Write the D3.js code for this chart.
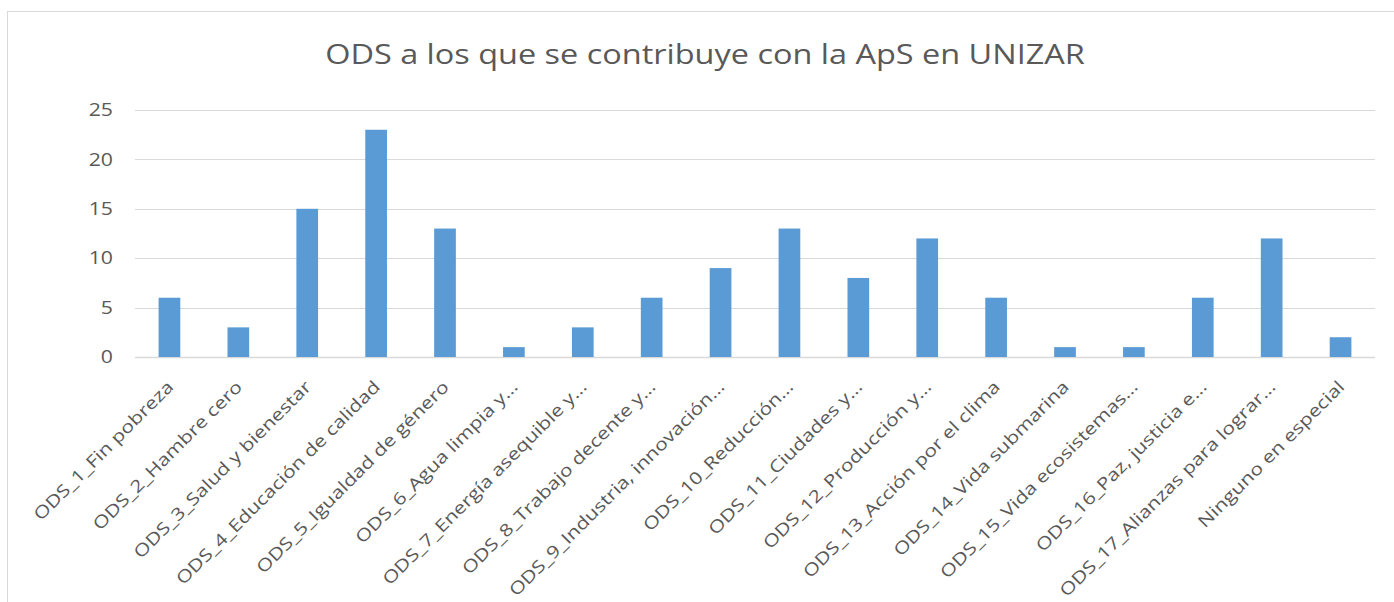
<!DOCTYPE html>
<html>
<head>
<meta charset="utf-8">
<title>ODS ApS UNIZAR</title>
<style>
  body { margin: 0; background: #fff; }
  svg { font-family: "Open Sans", sans-serif; }
  rect.bar-rect { fill: #5b9bd5; }
</style>
</head>
<body>
<div id="chart"></div>
<script src="https://d3js.org/d3.v7.min.js"></script>
<script>

// Data
var categories = [
  "ODS_1_Fin pobreza",
  "ODS_2_Hambre cero",
  "ODS_3_Salud y bienestar",
  "ODS_4_Educación de calidad",
  "ODS_5_Igualdad de género",
  "ODS_6_Agua limpia y…",
  "ODS_7_Energía asequible y…",
  "ODS_8_Trabajo decente y…",
  "ODS_9_Industria, innovación…",
  "ODS_10_Reducción…",
  "ODS_11_Ciudades y…",
  "ODS_12_Producción y…",
  "ODS_13_Acción por el clima",
  "ODS_14_Vida submarina",
  "ODS_15_Vida ecosistemas…",
  "ODS_16_Paz, justicia e…",
  "ODS_17_Alianzas para lograr…",
  "Ninguno en especial"
];
var counts = [6, 3, 15, 23, 13, 1, 3, 6, 9, 13, 8, 12, 6, 1, 1, 6, 12, 2];
var yTicks = [0, 5, 10, 15, 20, 25];
var chartTitle = "ODS a los que se contribuye con la ApS en UNIZAR";

var data = categories.map(function(c, i) { return {name: c, count: counts[i]}; });

const width = 1394;
const height = 602;
const margin = {top: 110, right: 19, bottom: 245, left: 135};
const graphWidth = width - margin.left - margin.right;
const graphHeight = height - margin.top - margin.bottom;

// the original font runs wider than Open Sans, stretch text a bit
function stretch(sel, widen) {
  sel.each(function() {
    var len = this.getComputedTextLength();
    d3.select(this)
      .attr('textLength', len * widen)
      .attr('lengthAdjust', 'spacingAndGlyphs');
  });
}

const svg = d3.select('#chart')
  .append('svg')
  .attr('width', width)
  .attr('height', height);

// chart border
svg.append('rect')
  .attr('x', 7.5)
  .attr('y', 11.5)
  .attr('width', width + 20)
  .attr('height', height + 20)
  .attr('fill', 'none')
  .attr('stroke', '#d9d9d9')
  .attr('stroke-width', 1);

svg.append('text')
  .attr('x', 705)
  .attr('y', 64)
  .attr('text-anchor', 'middle')
  .style('font-size', '27.5px')
  .style('fill', '#595959')
  .text(chartTitle)
  .call(stretch, 1.18);

const graph = svg.append('g')
  .attr('transform', `translate(${margin.left}, ${margin.top})`);

const y = d3.scaleLinear()
  .domain([0, 25])
  .range([graphHeight, 0]);

const x = d3.scaleBand()
  .domain(categories)
  .range([0, graphWidth])
  .paddingInner(0.685)
  .paddingOuter(0.3425);

// gridlines
graph.append('g')
  .selectAll('line')
  .data(yTicks)
  .enter()
  .append('line')
  .attr('x1', 0)
  .attr('x2', graphWidth)
  .attr('y1', d => Math.round(y(d)) + 0.5)
  .attr('y2', d => Math.round(y(d)) + 0.5)
  .attr('stroke', '#d9d9d9')
  .attr('stroke-width', d => d === 0 ? 1.5 : 1);

graph.selectAll('rect.bar-rect')
  .data(data)
  .enter()
  .append('rect')
  .attr('class', 'bar-rect')
  .attr('x', d => x(d.name))
  .attr('width', x.bandwidth())
  .attr('y', d => y(d.count))
  .attr('height', d => graphHeight - y(d.count));

const yAxis = d3.axisLeft(y)
  .tickValues(yTicks)
  .tickSize(0)
  .tickPadding(22);

const gYAxis = graph.append('g').call(yAxis);
gYAxis.select('.domain').remove();
gYAxis.selectAll('text')
  .style('font-size', '18px')
  .style('fill', '#595959')
  .style('font-family', '"Open Sans", sans-serif')
  .call(stretch, 1.18);

const xAxis = d3.axisBottom(x).tickSize(0).tickPadding(0);
const gXAxis = graph.append('g')
  .attr('transform', `translate(0, ${graphHeight})`)
  .call(xAxis);
gXAxis.select('.domain').remove();
gXAxis.selectAll('text')
  .style('font-size', '17px')
  .style('fill', '#595959')
  .style('font-family', '"Open Sans", sans-serif')
  .style('text-anchor', 'end')
  .attr('y', 0)
  .attr('dy', 0)
  .attr('transform', 'translate(5, 31) rotate(-45)')
  .call(stretch, 1.24);

</script>
</body>
</html>
